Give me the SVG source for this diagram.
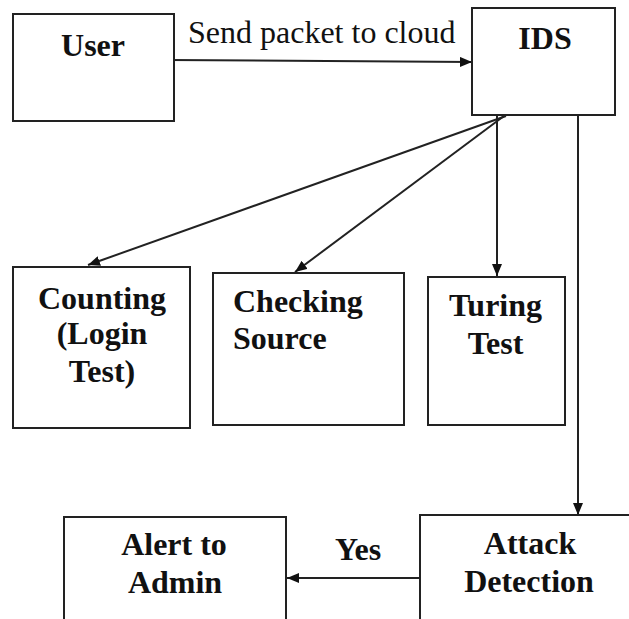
<svg xmlns="http://www.w3.org/2000/svg" width="629" height="619" viewBox="0 0 629 619">
<defs>
<marker id="ah" viewBox="0 0 12 10" refX="12" refY="5" markerWidth="12" markerHeight="10" markerUnits="userSpaceOnUse" orient="auto">
<path d="M0,0 L12,5 L0,10 Z" fill="#111"/>
</marker>
<style>
.box{fill:#fff;stroke:#222;stroke-width:2}
text{font-family:'Liberation Serif','DejaVu Serif','Times New Roman',serif;font-size:32px;fill:#111}
.t{font-weight:bold;text-anchor:middle}
.c{stroke:#222;stroke-width:2;fill:none;marker-end:url(#ah)}
</style>
</defs>
<rect width="629" height="619" fill="#fff"/>
<g id="connectors">
<line class="c" x1="168" y1="60" x2="472" y2="62"/>
<line class="c" x1="506" y1="116" x2="88" y2="265"/>
<line class="c" x1="504" y1="116" x2="295" y2="272"/>
<line class="c" x1="497" y1="116" x2="497" y2="276"/>
<line class="c" x1="578" y1="115" x2="578" y2="515"/>
<line class="c" x1="425" y1="578" x2="287" y2="578"/>
<text font-family="Liberation Serif" x="188" y="43">Send packet to cloud</text>
<text class="t" font-family="Liberation Serif" x="358" y="560">Yes</text>
</g>
<g id="user">
<rect class="box" x="13" y="14" width="161" height="107"/>
<text class="t" font-family="Liberation Serif" x="93" y="56">User</text>
</g>
<g id="ids">
<rect class="box" x="472" y="8" width="143" height="107"/>
<text class="t" font-family="Liberation Serif" x="545" y="49">IDS</text>
</g>
<g id="counting">
<rect class="box" x="13" y="267" width="177" height="161"/>
<text class="t" font-family="Liberation Serif" x="102" y="309">Counting</text>
<text class="t" font-family="Liberation Serif" x="102" y="344">(Login</text>
<text class="t" font-family="Liberation Serif" x="102" y="382">Test)</text>
</g>
<g id="checking">
<rect class="box" x="213" y="273" width="191" height="152"/>
<text class="t" font-family="Liberation Serif" x="233" y="312" text-anchor="start" style="text-anchor:start">Checking</text>
<text class="t" font-family="Liberation Serif" x="233" y="349" style="text-anchor:start">Source</text>
</g>
<g id="turing">
<rect class="box" x="428" y="277" width="137" height="148"/>
<text class="t" font-family="Liberation Serif" x="495.5" y="316">Turing</text>
<text class="t" font-family="Liberation Serif" x="495.5" y="354">Test</text>
</g>
<g id="alert">
<rect class="box" x="64" y="517" width="222" height="140"/>
<text class="t" font-family="Liberation Serif" x="174" y="555">Alert to</text>
<text class="t" font-family="Liberation Serif" x="175" y="593">Admin</text>
</g>
<g id="attack">
<rect class="box" x="420" y="515" width="240" height="140"/>
<text class="t" font-family="Liberation Serif" x="530" y="554">Attack</text>
<text class="t" font-family="Liberation Serif" x="529" y="592">Detection</text>
</g>
</svg>
